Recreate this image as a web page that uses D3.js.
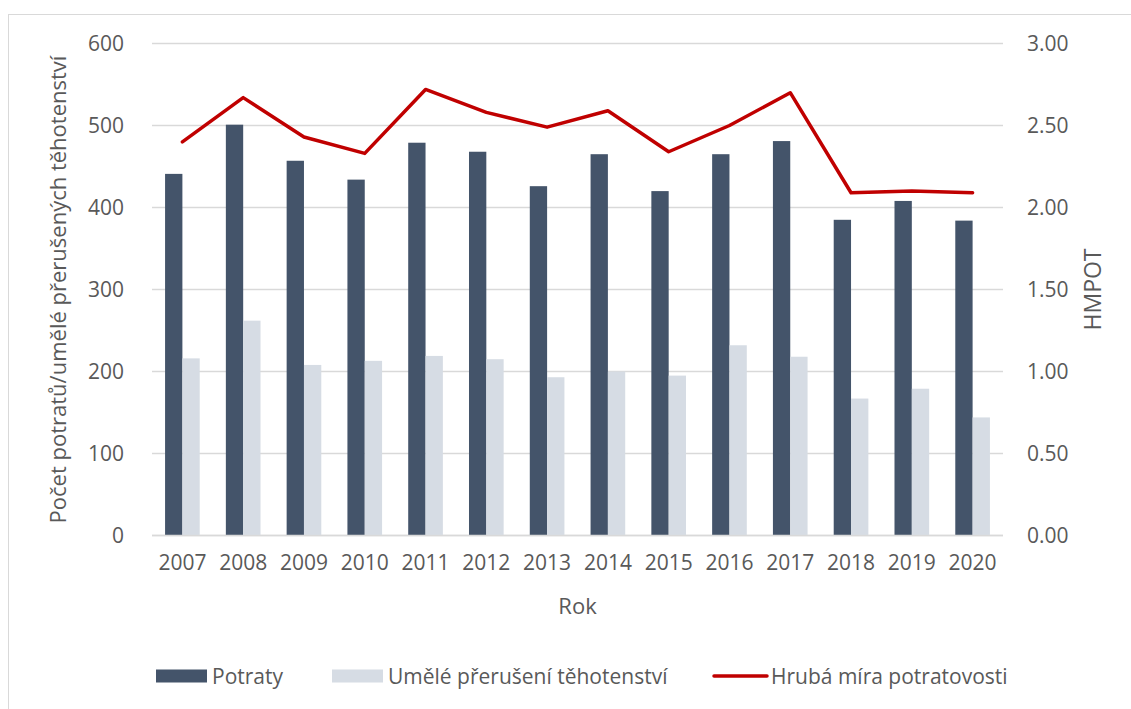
<!DOCTYPE html>
<html>
<head>
<meta charset="utf-8">
<script src="https://cdn.jsdelivr.net/npm/d3@7"></script>
<style>
  body { margin: 0; background: #fff; }
  text { font-family: "Open Sans", sans-serif; fill: #595959; }
</style>
</head>
<body>
<div id="chart"></div>
<script>
const years = ["2007", "2008", "2009", "2010", "2011", "2012", "2013", "2014", "2015", "2016", "2017", "2018", "2019", "2020"];
const potraty = [441, 501, 457, 434, 479, 468, 426, 465, 420, 465, 481, 385, 408, 384];
const umele = [216, 262, 208, 213, 219, 215, 193, 200, 195, 232, 218, 167, 179, 144];
const hmpot = [2.40, 2.67, 2.43, 2.33, 2.72, 2.58, 2.49, 2.59, 2.34, 2.50, 2.70, 2.09, 2.10, 2.09];
const leftTicks = [0, 100, 200, 300, 400, 500, 600];
const rightTicks = [0, 0.5, 1, 1.5, 2, 2.5, 3];

const width = 1131, height = 709;
const margin = { top: 43.5, right: 128, bottom: 173.5, left: 152 };

const svg = d3.select("#chart")
  .append("svg")
  .attr("width", width)
  .attr("height", height);

// outer chart border
svg.append("rect")
  .attr("x", 8.5)
  .attr("y", 14.5)
  .attr("width", width + 20)
  .attr("height", height + 20)
  .attr("fill", "none")
  .attr("stroke", "#d9d9d9")
  .attr("stroke-width", 1);

const x = d3.scaleBand()
  .domain(years)
  .range([margin.left, width - margin.right])
  .paddingInner(0.43)
  .paddingOuter(0.215);

const xSub = d3.scaleBand()
  .domain(["potraty", "umele"])
  .range([0, x.bandwidth()]);

const yLeft = d3.scaleLinear()
  .domain([0, 600])
  .range([height - margin.bottom, margin.top]);

const yRight = d3.scaleLinear()
  .domain([0, 3])
  .range([height - margin.bottom, margin.top]);

// gridlines
svg.append("g")
  .selectAll("line")
  .data(leftTicks)
  .join("line")
  .attr("x1", margin.left)
  .attr("x2", width - margin.right)
  .attr("y1", d => yLeft(d))
  .attr("y2", d => yLeft(d))
  .attr("stroke", "#d9d9d9")
  .attr("stroke-width", 1.3);

// left axis
const gLeft = svg.append("g")
  .attr("transform", `translate(${margin.left - 28}, 0)`)
  .call(d3.axisLeft(yLeft).tickValues(leftTicks).tickSize(0).tickPadding(0));
gLeft.select(".domain").remove();
gLeft.selectAll("text").attr("font-size", "21px").attr("font-family", "Open Sans").attr("fill", "#595959");

// right axis
const gRight = svg.append("g")
  .attr("transform", `translate(${width - margin.right + 24}, 0)`)
  .call(d3.axisRight(yRight).tickValues(rightTicks).tickFormat(d3.format(".2f")).tickSize(0).tickPadding(0));
gRight.select(".domain").remove();
gRight.selectAll("text").attr("font-size", "21px").attr("font-family", "Open Sans").attr("fill", "#595959");

// x axis
const gX = svg.append("g")
  .attr("transform", `translate(0, ${height - margin.bottom})`)
  .call(d3.axisBottom(x).tickSize(0).tickPadding(20));
gX.select(".domain").remove();
gX.selectAll("text").attr("font-size", "21px").attr("font-family", "Open Sans").attr("fill", "#595959");

// bars
const rows = years.map((yr, i) => ({ year: yr, potraty: potraty[i], umele: umele[i] }));
const groups = svg.append("g")
  .selectAll("g")
  .data(rows)
  .join("g")
  .attr("transform", d => `translate(${x(d.year)}, 0)`);

groups.append("rect")
  .attr("x", xSub("potraty"))
  .attr("y", d => yLeft(d.potraty))
  .attr("width", xSub.bandwidth())
  .attr("height", d => yLeft(0) - yLeft(d.potraty))
  .attr("fill", "#44546a");

groups.append("rect")
  .attr("x", xSub("umele"))
  .attr("y", d => yLeft(d.umele))
  .attr("width", xSub.bandwidth())
  .attr("height", d => yLeft(0) - yLeft(d.umele))
  .attr("fill", "#d6dce4");

// baseline
svg.append("line")
  .attr("x1", margin.left)
  .attr("x2", width - margin.right)
  .attr("y1", yLeft(0))
  .attr("y2", yLeft(0))
  .attr("stroke", "#d9d9d9")
  .attr("stroke-width", 1.3);

// line
const line = d3.line()
  .x((d, i) => x(years[i]) + x.bandwidth() / 2)
  .y(d => yRight(d));

svg.append("path")
  .datum(hmpot)
  .attr("fill", "none")
  .attr("stroke", "#c00000")
  .attr("stroke-width", 3.5)
  .attr("stroke-linejoin", "round")
  .attr("stroke-linecap", "round")
  .attr("d", line);

// axis titles
svg.append("text")
  .attr("transform", `translate(66, ${(margin.top + height - margin.bottom) / 2}) rotate(-90)`)
  .attr("text-anchor", "middle")
  .attr("font-size", "22px")
  .text("Počet potratů/umělé přerušených těhotenství");

svg.append("text")
  .attr("transform", `translate(1101, ${(margin.top + height - margin.bottom) / 2}) rotate(-90)`)
  .attr("text-anchor", "middle")
  .attr("font-size", "23px")
  .text("HMPOT");

svg.append("text")
  .attr("x", (margin.left + width - margin.right) / 2)
  .attr("y", 614)
  .attr("text-anchor", "middle")
  .attr("font-size", "22px")
  .text("Rok");

// legend
const legendY = 676;
const legend = svg.append("g");

legend.append("rect").attr("x", 156).attr("y", legendY - 6.5).attr("width", 51).attr("height", 13).attr("fill", "#44546a");
legend.append("text").attr("x", 212).attr("y", legendY + 7.5).attr("font-size", "21px").text("Potraty");

legend.append("rect").attr("x", 332).attr("y", legendY - 6.5).attr("width", 51).attr("height", 13).attr("fill", "#d6dce4");
legend.append("text").attr("x", 388).attr("y", legendY + 7.5).attr("font-size", "21px").text("Umělé přerušení těhotenství");

legend.append("line").attr("x1", 714).attr("x2", 767).attr("y1", legendY).attr("y2", legendY)
  .attr("stroke", "#c00000").attr("stroke-width", 3.5).attr("stroke-linecap", "round");
legend.append("text").attr("x", 771).attr("y", legendY + 7.5).attr("font-size", "21px").text("Hrubá míra potratovosti");
</script>
</body>
</html>
